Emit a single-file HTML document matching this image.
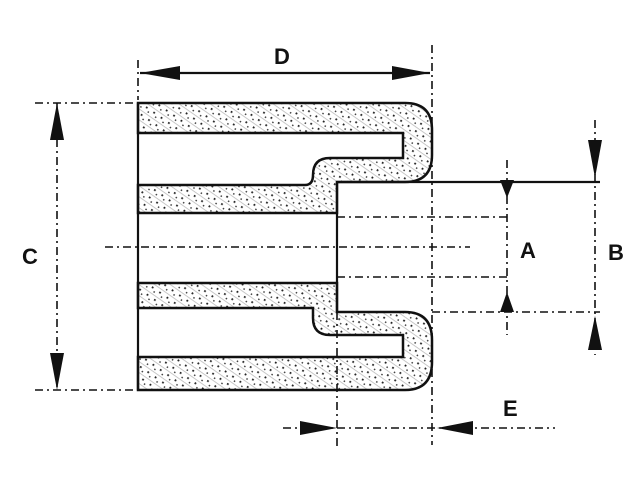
<!DOCTYPE html>
<html><head><style>html,body{margin:0;padding:0;background:#fff}svg{display:block}</style></head><body>
<svg width="644" height="484" viewBox="0 0 644 484" xmlns="http://www.w3.org/2000/svg" font-family="Liberation Sans, sans-serif">
<defs>
<pattern id="h" width="9" height="9" patternUnits="userSpaceOnUse" patternTransform="rotate(35)">
<rect width="9" height="9" fill="#fff"/>
<rect x="0" y="0" width="9" height="0.8" fill="#bbb"/>
<rect x="1" y="3" width="1.8" height="1.8" fill="#222"/>
<rect x="5" y="6" width="1.5" height="1.5" fill="#444"/>
</pattern>
</defs>
<g stroke="#111" stroke-width="2.5" fill="url(#h)">
<path d="M138,103 L405,103 Q432,103 432,130 L432,155 Q432,182 405,182 L337,182 L337,213 L138,213 L138,185 L305,185 Q313,185 313,175 Q313,158 330,158 L403,158 L403,133 L138,133 Z"/>
<path d="M138,283 L337,283 L337,312 L405,312 Q432,312 432,340 L432,362 Q432,390 405,390 L138,390 L138,357 L403,357 L403,335 L330,335 Q313,335 313,318 L313,308 L138,308 Z"/>
</g>
<g stroke="#111" stroke-width="2.2" fill="none">
<line x1="138" y1="103" x2="138" y2="390"/>
<line x1="337" y1="182" x2="337" y2="312"/>
<line x1="337" y1="182" x2="432" y2="182"/>
<line x1="140" y1="73" x2="430" y2="73"/>
<line x1="432" y1="182" x2="600" y2="182"/>
</g>
<g stroke="#111" stroke-width="1.6" fill="none" stroke-dasharray="8,4,2,4">
<line x1="432" y1="45" x2="432" y2="445"/>
<line x1="138" y1="60" x2="138" y2="100"/>
<line x1="337" y1="312" x2="337" y2="448"/>
<line x1="105" y1="247" x2="470" y2="247"/>
<line x1="35" y1="103" x2="136" y2="103"/>
<line x1="35" y1="390" x2="136" y2="390"/>
<line x1="57" y1="103" x2="57" y2="390"/>
<line x1="507" y1="160" x2="507" y2="335"/>
<line x1="595" y1="120" x2="595" y2="355"/>
<line x1="432" y1="312" x2="600" y2="312"/>
<line x1="283" y1="428" x2="555" y2="428"/>
<line x1="337" y1="217" x2="510" y2="217"/>
<line x1="337" y1="277" x2="510" y2="277"/>
</g>
<g fill="#111">
<polygon points="140,73 180,66 180,80"/>
<polygon points="430,73 392,66 392,80"/>
<polygon points="57,103 50,140 64,140"/>
<polygon points="57,390 50,353 64,353"/>
<polygon points="507,198 500,180 514,180"/>
<polygon points="507,292 500,312 514,312"/>
<polygon points="595,178 588,140 602,140"/>
<polygon points="595,316 588,350 602,350"/>
<polygon points="337,428 300,421 300,435"/>
<polygon points="437,428 473,421 473,435"/>
</g>
<g font-size="22" fill="#111" font-weight="bold">
<text x="274" y="64">D</text>
<text x="22" y="264">C</text>
<text x="520" y="258">A</text>
<text x="608" y="260">B</text>
<text x="503" y="416">E</text>
</g>
</svg>
</body></html>
